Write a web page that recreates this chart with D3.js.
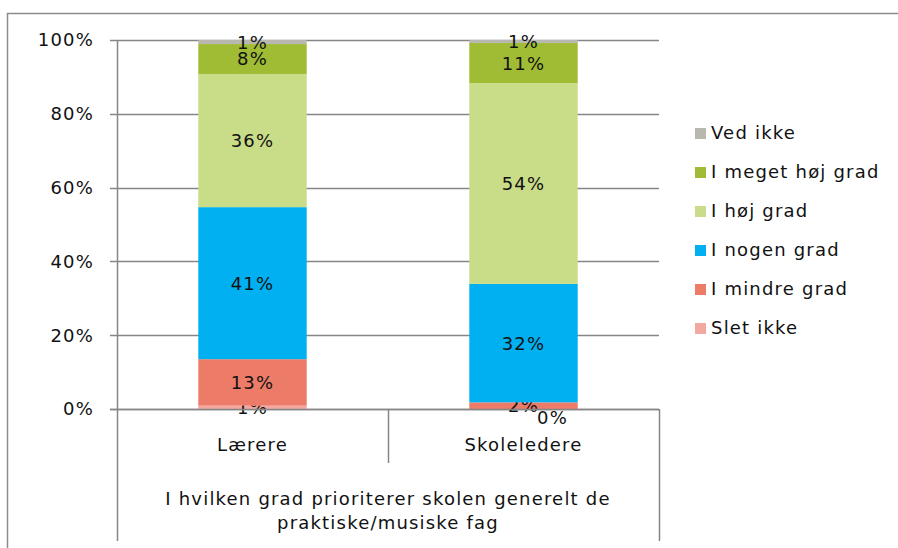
<!DOCTYPE html>
<html>
<head>
<meta charset="utf-8">
<script src="https://cdn.jsdelivr.net/npm/d3@7"></script>
<style>
  body { margin: 0; background: #fff; }
  svg { display: block; font-family: "DejaVu Sans", Verdana, sans-serif; }
  svg text { letter-spacing: 1.2px; }
</style>
</head>
<body>
<div id="chart"></div>
<script>
// data (shares, bottom to top of each stack)
const categories = ["Lærere", "Skoleledere"];
const series = ["Slet ikke", "I mindre grad", "I nogen grad", "I høj grad", "I meget høj grad", "Ved ikke"];
const laerere = [0.9, 12.6, 41.2, 36.1, 8.1, 1.1];
const skoleledere = [0, 1.8, 32.1, 54.4, 10.9, 0.8];
const colors = ["#F2A89E", "#EC7B68", "#00B0F0", "#C9DC88", "#A0BC34", "#B8B8B0"];
const yTicks = [0, 20, 40, 60, 80, 100];
const axisTitle = ["I hvilken grad prioriterer skolen generelt de", "praktiske/musiske fag"];

const width = 898, height = 548;
const fontSize = "18px";
const svg = d3.select("#chart").append("svg")
    .attr("width", width)
    .attr("height", height);

// outer frame (top and left edges only are visible)
svg.append("path")
    .attr("d", "M7.5,548 V13.5 H898")
    .attr("fill", "none")
    .attr("stroke", "#8c8c8c")
    .attr("stroke-width", 1.5);

const plot = { left: 117, right: 659, top: 40, bottom: 409 };

const x = d3.scaleBand()
    .domain(categories)
    .range([plot.left, plot.right])
    .paddingInner(0)
    .paddingOuter(0);

const y = d3.scaleLinear()
    .domain([0, 100])
    .range([plot.bottom, plot.top]);

const rows = categories.map(function(c, i) {
    const vals = i === 0 ? laerere : skoleledere;
    const row = { cat: c };
    series.forEach(function(s, j) { row[s] = vals[j]; });
    return row;
});
const stacked = d3.stack().keys(series)(rows);

const gridColor = "#868686";

// gridlines + tick marks
svg.append("g").selectAll("line")
    .data(yTicks)
    .join("line")
    .attr("x1", plot.left - 7)
    .attr("x2", plot.right)
    .attr("y1", function(d) { return Math.round(y(d)) + 0.5; })
    .attr("y2", function(d) { return Math.round(y(d)) + 0.5; })
    .attr("stroke", gridColor)
    .attr("stroke-width", 1.5);

svg.append("g").selectAll("text")
    .data(yTicks)
    .join("text")
    .attr("x", 94)
    .attr("y", function(d) { return y(d); })
    .attr("dy", "0.36em")
    .attr("text-anchor", "end")
    .attr("font-size", fontSize)
    .attr("fill", "#111")
    .text(function(d) { return d + "%"; });

// bars
const barW = x.bandwidth() * 0.4;
const layer = svg.append("g").selectAll("g")
    .data(stacked)
    .join("g")
    .attr("fill", function(d, i) { return colors[i]; });

layer.selectAll("rect")
    .data(function(d) { return d; })
    .join("rect")
    .attr("x", function(d) { return x(d.data.cat) + (x.bandwidth() - barW) / 2; })
    .attr("width", barW)
    .attr("y", function(d) { return y(d[1]); })
    .attr("height", function(d) { return y(d[0]) - y(d[1]); });

// axis lines drawn over bars
svg.append("line")
    .attr("x1", plot.left - 7).attr("x2", plot.right)
    .attr("y1", plot.bottom + 0.5).attr("y2", plot.bottom + 0.5)
    .attr("stroke", gridColor).attr("stroke-width", 1.5);
svg.append("line")
    .attr("x1", plot.left + 0.5).attr("x2", plot.left + 0.5)
    .attr("y1", plot.top).attr("y2", 541)
    .attr("stroke", gridColor).attr("stroke-width", 1.5);
svg.append("line")
    .attr("x1", plot.right + 0.5).attr("x2", plot.right + 0.5)
    .attr("y1", plot.bottom).attr("y2", 541)
    .attr("stroke", gridColor).attr("stroke-width", 1.5);
svg.append("line")
    .attr("x1", x(categories[1]) + 0.5).attr("x2", x(categories[1]) + 0.5)
    .attr("y1", plot.bottom).attr("y2", 463)
    .attr("stroke", gridColor).attr("stroke-width", 1.5);

// data labels
const fmt = function(v) { return Math.round(v) + "%"; };
layer.selectAll("text")
    .data(function(d) { return d; })
    .join("text")
    .attr("x", function(d) {
        const cx = x(d.data.cat) + x.bandwidth() / 2;
        return (d[1] - d[0]) === 0 ? cx + 29 : cx;
    })
    .attr("y", function(d) {
        const cy = (y(d[0]) + y(d[1])) / 2;
        return (d[1] - d[0]) === 0 ? cy + 9 : cy;
    })
    .attr("dy", "0.36em")
    .attr("text-anchor", "middle")
    .attr("font-size", fontSize)
    .attr("fill", "#111")
    .text(function(d) { return fmt(d[1] - d[0]); });

// category labels
svg.append("g").selectAll("text")
    .data(categories)
    .join("text")
    .attr("x", function(d) { return x(d) + x.bandwidth() / 2; })
    .attr("y", 445)
    .attr("dy", "0.36em")
    .attr("text-anchor", "middle")
    .attr("font-size", fontSize)
    .attr("fill", "#111")
    .text(function(d) { return d; });

svg.append("g").selectAll("text")
    .data(axisTitle)
    .join("text")
    .attr("x", (plot.left + plot.right) / 2)
    .attr("y", function(d, i) { return 499 + i * 24; })
    .attr("dy", "0.36em")
    .attr("text-anchor", "middle")
    .attr("font-size", fontSize)
    .attr("fill", "#111")
    .text(function(d) { return d; });

// legend, reversed so "Ved ikke" is on top
const legendItems = series.map(function(s, i) { return { name: s, color: colors[i] }; }).reverse();
const legend = svg.append("g").selectAll("g")
    .data(legendItems)
    .join("g")
    .attr("transform", function(d, i) { return "translate(695," + (133 + i * 39) + ")"; });

legend.append("rect")
    .attr("x", 0).attr("y", -5)
    .attr("width", 11).attr("height", 11)
    .attr("fill", function(d) { return d.color; });

legend.append("text")
    .attr("x", 16)
    .attr("y", 0)
    .attr("dy", "0.36em")
    .attr("font-size", fontSize)
    .attr("fill", "#111")
    .text(function(d) { return d.name; });
</script>
</body>
</html>
